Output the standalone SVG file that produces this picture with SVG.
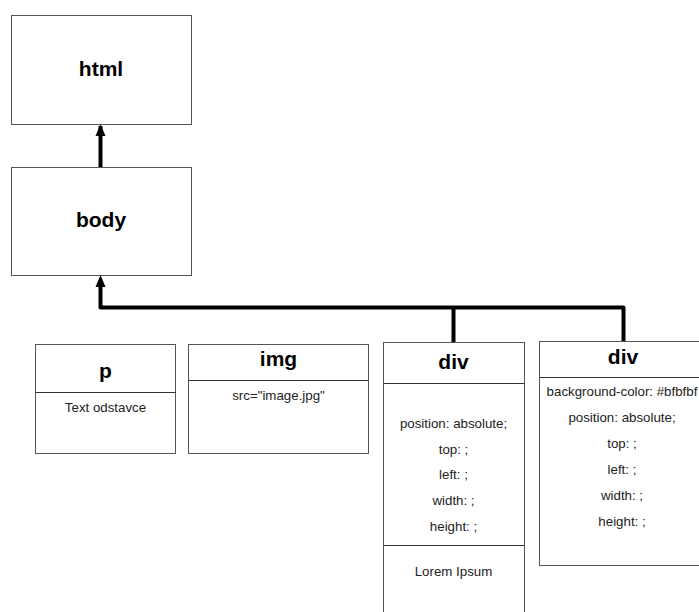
<svg xmlns="http://www.w3.org/2000/svg" width="699" height="612" viewBox="0 0 699 612">
<style>
.box{fill:#fff;stroke:#555;stroke-width:1}
.div{stroke:#333;stroke-width:1}
.t{font-family:"Liberation Sans",Arial,sans-serif;font-weight:bold;font-size:21px;fill:#000;text-anchor:middle}
.s{font-family:"Liberation Sans",Arial,sans-serif;font-size:13.3px;fill:#222;text-anchor:middle}
.c{fill:none;stroke:#000;stroke-width:4;stroke-linejoin:round}
</style>
<defs>
<marker id="ah" viewBox="0 0 10 11" refX="5" refY="0" markerWidth="10" markerHeight="11" markerUnits="userSpaceOnUse" orient="auto-start-reverse">
<path d="M0,11 L5,0 L10,11 Z" fill="#000"/>
</marker>
</defs>
<g id="connectors">
<path class="c" d="M100.5,167 V126"/>
<path d="M95.5,136 L100.5,124 L105.5,136 Z" fill="#000"/>
<path class="c" d="M100.5,287 V307.5 H623.5 V342 M453.5,307.5 V343"/>
<path d="M95.5,287 L100.5,275 L105.5,287 Z" fill="#000"/>
</g>
<g id="html">
<rect class="box" x="11.5" y="15.5" width="180" height="109"/>
<text class="t" x="101" y="75.5">html</text>
</g>
<g id="body">
<rect class="box" x="11.5" y="167.5" width="180" height="108"/>
<text class="t" x="101" y="226.5">body</text>
</g>
<g id="p">
<rect class="box" x="35.5" y="344.5" width="140" height="109"/>
<line class="div" x1="35.5" y1="392.5" x2="175.5" y2="392.5"/>
<text class="t" x="105.5" y="378">p</text>
<text class="s" x="105.5" y="411.5">Text odstavce</text>
</g>
<g id="img">
<rect class="box" x="188.5" y="344.5" width="180" height="109"/>
<line class="div" x1="188.5" y1="380.5" x2="368.5" y2="380.5"/>
<text class="t" x="278.5" y="366">img</text>
<text class="s" x="278.5" y="399.5">src="image.jpg"</text>
</g>
<g id="div1">
<rect class="box" x="383.5" y="342.5" width="141" height="280"/>
<line class="div" x1="383.5" y1="383.5" x2="524.5" y2="383.5"/>
<line class="div" x1="383.5" y1="545.5" x2="524.5" y2="545.5"/>
<text class="t" x="453.5" y="369">div</text>
<text class="s" x="453.5" y="428">position: absolute;</text>
<text class="s" x="453.5" y="454">top: ;</text>
<text class="s" x="453.5" y="479">left: ;</text>
<text class="s" x="453.5" y="505">width: ;</text>
<text class="s" x="453.5" y="531">height: ;</text>
<text class="s" x="453.5" y="576">Lorem Ipsum</text>
</g>
<g id="div2">
<rect class="box" x="539.5" y="341.5" width="167" height="224"/>
<line class="div" x1="539.5" y1="377.5" x2="706.5" y2="377.5"/>
<text class="t" x="623" y="363.5">div</text>
<text class="s" x="622" y="396">background-color: #bfbfbf</text>
<text class="s" x="622" y="422">position: absolute;</text>
<text class="s" x="622" y="448">top: ;</text>
<text class="s" x="622" y="474">left: ;</text>
<text class="s" x="622" y="500">width: ;</text>
<text class="s" x="622" y="526">height: ;</text>
</g>
</svg>
